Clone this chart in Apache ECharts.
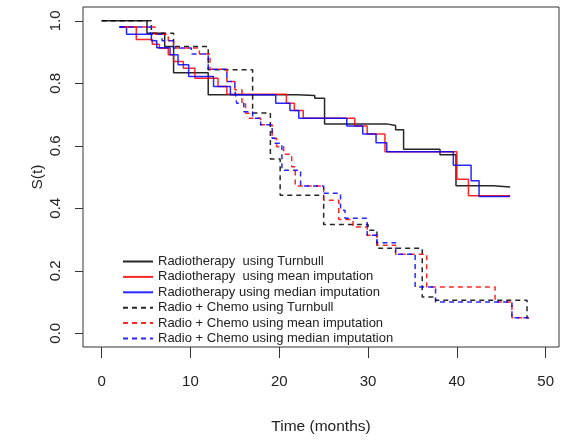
<!DOCTYPE html>
<html>
<head>
<meta charset="utf-8">
<script src="https://cdn.jsdelivr.net/npm/echarts@6/dist/echarts.min.js"></script>
<style>
  html, body { margin: 0; padding: 0; background: #fff; }
  #chart { width: 561px; height: 442px; }
</style>
</head>
<body>
<div id="chart"></div>
<script>
// tick labels
var xTicks = [0, 10, 20, 30, 40, 50];
var yTicks = [0, 0.2, 0.4, 0.6, 0.8, 1.0];

var names = [
    "Radiotherapy  using Turnbull",
    "Radiotherapy  using mean imputation",
    "Radiotherapy using median imputation",
    "Radio + Chemo using Turnbull",
    "Radio + Chemo using mean imputation",
    "Radio + Chemo using median imputation"
];

// Radiotherapy, Turnbull
var rtTurnT = [0, 5.1, 7.1, 8.1, 12.0, 22.0, 24.0, 25.1, 32.1, 33.1, 34.0, 38.1, 39.9, 44.1, 46.0];
var rtTurnS = [1.0, 0.96, 0.918, 0.834, 0.763, 0.761, 0.752, 0.67, 0.665, 0.651, 0.589, 0.571, 0.472, 0.468, 0.468];
// Radiotherapy, mean imputation
var rtMeanT = [2.0, 3.9, 5.7, 6.5, 7.5, 8.1, 9.2, 10.5, 13.1, 14.1, 20.8, 21.7, 22.7, 28.5, 29.9, 31.9, 40.0, 41.3, 46.0];
var rtMeanS = [0.98, 0.94, 0.925, 0.912, 0.891, 0.87, 0.848, 0.816, 0.79, 0.765, 0.736, 0.713, 0.688, 0.663, 0.638, 0.581, 0.493, 0.44, 0.44];
// Radiotherapy, median imputation
var rtMedT = [2.0, 2.8, 5.6, 6.2, 7.7, 8.6, 9.8, 12.6, 14.5, 19.6, 21.2, 22.2, 27.6, 29.4, 30.9, 32.1, 39.6, 41.6, 42.5, 46.0];
var rtMedS = [0.98, 0.957, 0.936, 0.914, 0.891, 0.859, 0.822, 0.79, 0.763, 0.736, 0.713, 0.688, 0.663, 0.638, 0.61, 0.581, 0.538, 0.488, 0.438, 0.438];
// Radio + Chemo, Turnbull
var rcTurnT = [0, 5.6, 8.1, 12.0, 17.0, 19.0, 20.1, 25.0, 30.0, 31.0, 36.1, 37.6, 47.9, 48.1];
var rcTurnS = [1.0, 0.96, 0.918, 0.843, 0.705, 0.558, 0.442, 0.348, 0.33, 0.272, 0.116, 0.106, 0.05, 0.05];
// Radio + Chemo, mean imputation
var rcMeanT = [2.5, 6.0, 7.5, 8.1, 11.0, 12.2, 14.1, 15.0, 15.8, 16.2, 16.6, 17.9, 19.2, 19.7, 20.5, 21.4, 21.8, 25.0, 26.7, 28.3, 29.9, 31.0, 33.1, 36.6, 44.3, 46.2, 48.1];
var rcMeanS = [0.98, 0.957, 0.936, 0.913, 0.894, 0.845, 0.806, 0.779, 0.736, 0.704, 0.688, 0.667, 0.624, 0.597, 0.573, 0.533, 0.471, 0.426, 0.364, 0.34, 0.314, 0.282, 0.253, 0.148, 0.1, 0.05, 0.05];
// Radio + Chemo, median imputation
var rcMedT = [2.0, 5.5, 6.8, 8.1, 10.1, 12.0, 14.1, 15.0, 15.2, 16.0, 17.0, 17.9, 19.2, 19.5, 20.3, 22.4, 25.0, 26.9, 27.4, 29.9, 31.0, 33.1, 35.3, 37.6, 46.2, 48.1];
var rcMedS = [0.98, 0.957, 0.936, 0.913, 0.894, 0.845, 0.806, 0.779, 0.736, 0.709, 0.688, 0.667, 0.624, 0.608, 0.522, 0.471, 0.448, 0.394, 0.368, 0.314, 0.29, 0.253, 0.148, 0.1, 0.05, 0.05];

var FONT = "'Liberation Sans', Arial, sans-serif";

function pairs(t, s) {
    return t.map(function (v, i) { return [v, s[i]]; });
}

function stepSeries(name, t, s, color, dashed) {
    return {
        name: name,
        type: 'line',
        step: 'end',
        symbol: 'none',
        silent: true,
        data: pairs(t, s),
        lineStyle: {color: color, width: 1.5, opacity: 0.85, type: dashed ? [5, 4] : 'solid'},
        itemStyle: {color: color}
    };
}

var chart = echarts.init(document.getElementById('chart'));
chart.setOption({
    animation: false,
    backgroundColor: '#fff',
    grid: {left: 83, right: 2, top: 7, bottom: 95, show: true, borderColor: '#333', borderWidth: 1, backgroundColor: 'transparent'},
    legend: {
        orient: 'vertical', left: 122, top: 255, padding: 0,
        itemWidth: 30, itemHeight: 13, itemGap: 2.4,
        selectedMode: false,
        itemStyle: {opacity: 0, borderWidth: 0},
        textStyle: {fontFamily: FONT, fontSize: 13, lineHeight: 13, color: '#222'},
        data: names
    },
    xAxis: {
        type: 'value', min: -2.1, max: 51.5,
        name: 'Time (months)', nameLocation: 'middle', nameGap: 72, nameMoveOverlap: false,
        nameTextStyle: {fontFamily: FONT, fontSize: 15.5, color: '#222'},
        axisLine: {show: false, onZero: false},
        axisTick: {show: true, length: 11, lineStyle: {color: '#333'}, customValues: xTicks},
        axisLabel: {fontFamily: FONT, fontSize: 15, color: '#222', margin: 27, customValues: xTicks},
        splitLine: {show: false}
    },
    yAxis: {
        type: 'value', min: -0.044, max: 1.044,
        name: 'S(t)', nameLocation: 'middle', nameGap: 37, nameMoveOverlap: false,
        nameTextStyle: {fontFamily: FONT, fontSize: 15.5, color: '#222'},
        axisLine: {show: false, onZero: false},
        axisTick: {show: true, length: 8, lineStyle: {color: '#333'}, customValues: yTicks},
        axisLabel: {
            fontFamily: FONT, fontSize: 15, color: '#222', margin: 20, rotate: 90,
            customValues: yTicks,
            formatter: function (v) { return v.toFixed(1); }
        },
        splitLine: {show: false}
    },
    series: [
        stepSeries(names[0], rtTurnT, rtTurnS, '#000000', false),
        stepSeries(names[1], rtMeanT, rtMeanS, '#ff0000', false),
        stepSeries(names[2], rtMedT, rtMedS, '#0000ff', false),
        stepSeries(names[3], rcTurnT, rcTurnS, '#000000', true),
        stepSeries(names[4], rcMeanT, rcMeanS, '#ff0000', true),
        stepSeries(names[5], rcMedT, rcMedS, '#0000ff', true)
    ]
});
</script>
</body>
</html>
